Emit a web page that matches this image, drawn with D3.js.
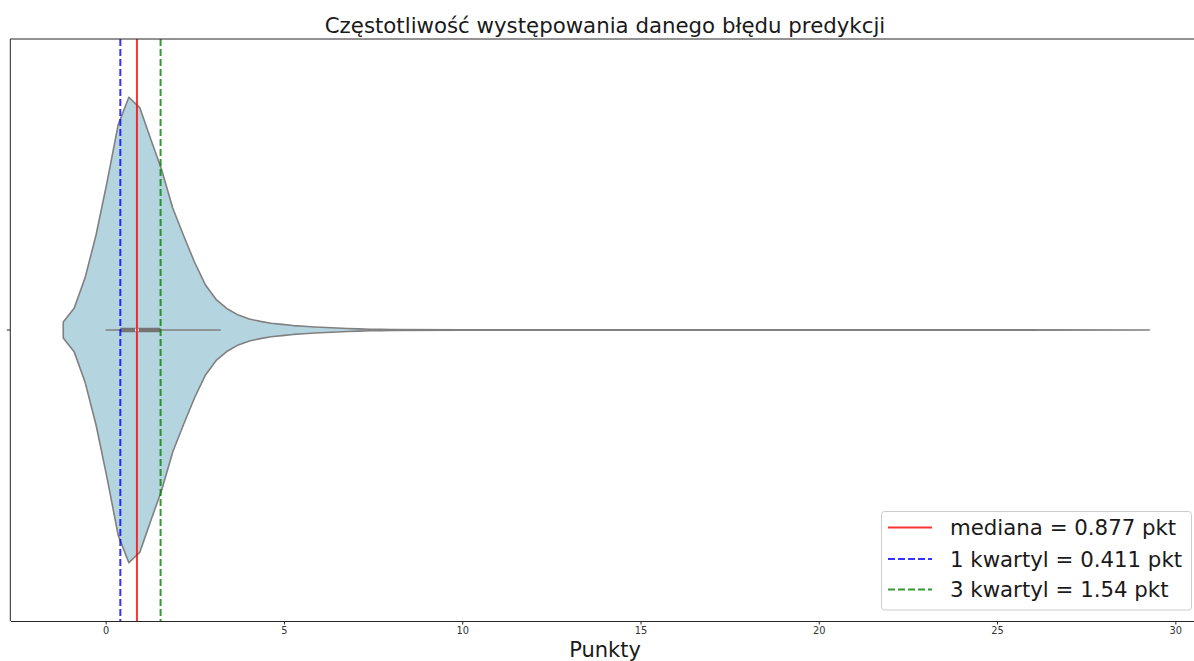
<!DOCTYPE html>
<html>
<head>
<meta charset="utf-8">
<script src="https://cdn.jsdelivr.net/npm/d3@7"></script>
<style>
  html, body { margin: 0; padding: 0; background: #fff; }
  svg { display: block; font-family: "DejaVu Sans", sans-serif; }
</style>
</head>
<body>
<svg id="chart" width="1194" height="661"></svg>
<script>
// ---- data ----
const titleText = "Częstotliwość występowania danego błędu predykcji";
const xLabel = "Punkty";
const xTicks = [0, 5, 10, 15, 20, 25, 30];
const category = [""];
// KDE support points (prediction error, pkt) and relative density (peak = 1)
const errorValues = [-1.19, -0.88, -0.58, -0.27, 0.04, 0.35, 0.65, 0.96, 1.27, 1.57,
  1.88, 2.19, 2.49, 2.80, 3.11, 3.42, 3.72, 4.03, 4.34, 4.64,
  4.95, 5.26, 5.56, 5.87, 6.18, 6.49, 6.79, 7.10, 7.41, 7.71,
  8.02, 10.0, 15.0, 20.0, 25.0, 29.27];
const density = [0.034, 0.095, 0.223, 0.408, 0.636, 0.881, 1.0, 0.954, 0.817, 0.688,
  0.524, 0.404, 0.292, 0.193, 0.129, 0.090, 0.064, 0.047, 0.037, 0.029,
  0.024, 0.019, 0.016, 0.013, 0.011, 0.0086, 0.0064, 0.0047, 0.0034, 0.0026,
  0.0017, 0.0008, 0.0005, 0.0005, 0.0004, 0.0003];
// box plot stats
const whiskerLow = 0.0;
const whiskerHigh = 3.23;
const q1 = 0.411;
const median = 0.877;
const q3 = 1.54;
const refLines = [
  { value: median, label: "mediana = 0.877 pkt", color: "#ff0000", dash: null },
  { value: q1, label: "1 kwartyl = 0.411 pkt", color: "#0000ff", dash: "7,3" },
  { value: q3, label: "3 kwartyl = 1.54 pkt", color: "#008000", dash: "7,3" }
];

(function () {
// ---- layout ----
const svg = d3.select("#chart");
const pLeft = 10.3, pRight = 1201, pTop = 39, pBottom = 621;
const x = d3.scaleLinear().domain([-2.675, 30.72]).range([pLeft, pRight]);
const y = d3.scaleBand().domain(category).range([pTop, pBottom]).padding(0);
const cy = y("") + y.bandwidth() / 2;
const halfW = 0.4 * y.bandwidth();

const pts = errorValues.map((v, i) => ({ v, d: density[i] }));

// violin
const area = d3.area()
  .x(p => x(p.v))
  .y0(p => cy - p.d * halfW)
  .y1(p => cy + p.d * halfW)
  .curve(d3.curveLinear);
svg.append("path")
  .datum(pts)
  .attr("d", area)
  .attr("fill", "#b4d4df")
  .attr("stroke", "#808080")
  .attr("stroke-width", 1.6)
  .attr("stroke-linejoin", "round");

// inner box
svg.append("line")
  .attr("x1", x(whiskerLow)).attr("x2", x(whiskerHigh))
  .attr("y1", cy).attr("y2", cy)
  .attr("stroke", "#808080").attr("stroke-width", 1.6);
svg.append("line")
  .attr("x1", x(q1)).attr("x2", x(q3))
  .attr("y1", cy).attr("y2", cy)
  .attr("stroke", "#737373").attr("stroke-width", 4.5);
svg.append("circle")
  .attr("cx", x(median)).attr("cy", cy).attr("r", 2)
  .attr("fill", "#fff");

// reference lines
svg.selectAll("line.ref").data(refLines).enter().append("line")
  .attr("class", "ref")
  .attr("x1", d => x(d.value)).attr("x2", d => x(d.value))
  .attr("y1", pTop).attr("y2", pBottom)
  .attr("stroke", d => d.color)
  .attr("stroke-opacity", 0.8)
  .attr("stroke-width", 2)
  .attr("stroke-dasharray", d => d.dash);

// spines
const spine = "#262626";
svg.append("line").attr("x1", pLeft).attr("x2", pLeft).attr("y1", pTop).attr("y2", pBottom)
  .attr("stroke", spine).attr("stroke-width", 1);
svg.append("line").attr("x1", pLeft).attr("x2", pRight).attr("y1", pTop).attr("y2", pTop)
  .attr("stroke", spine).attr("stroke-width", 1);

// x axis
const xAxis = d3.axisBottom(x).tickValues(xTicks).tickSize(3.5).tickSizeOuter(0)
  .tickPadding(3).tickFormat(d3.format("d"));
const gx = svg.append("g").attr("transform", `translate(0,${pBottom})`).call(xAxis);
gx.select(".domain").attr("stroke", spine).attr("stroke-width", 1);
gx.selectAll(".tick line").attr("stroke", spine);
gx.selectAll(".tick text").attr("font-size", "9.8px").attr("fill", "#333")
  .attr("font-family", "DejaVu Sans");

// y axis (single tick, no label)
const yAxis = d3.axisLeft(y).tickSize(3.5).tickSizeOuter(0).tickFormat(() => "");
const gy = svg.append("g").attr("transform", `translate(${pLeft},0)`).call(yAxis);
gy.select(".domain").remove();
gy.selectAll(".tick line").attr("stroke", spine);

// title & label
svg.append("text").attr("x", 605).attr("y", 33).attr("text-anchor", "middle")
  .attr("font-size", "21.3px").attr("fill", "#1a1a1a").text(titleText);
svg.append("text").attr("x", 605).attr("y", 657).attr("text-anchor", "middle")
  .attr("font-size", "21px").attr("fill", "#1a1a1a").text(xLabel);

// legend
const lg = svg.append("g");
lg.append("rect").attr("x", 881.5).attr("y", 511.5).attr("width", 310).attr("height", 98.5)
  .attr("rx", 3).attr("fill", "#fff").attr("fill-opacity", 0.8)
  .attr("stroke", "#cccccc").attr("stroke-width", 1);
const rowY = [527.5, 559, 589.5];
refLines.forEach((d, i) => {
  lg.append("line").attr("x1", 888).attr("x2", 932).attr("y1", rowY[i]).attr("y2", rowY[i])
    .attr("stroke", d.color).attr("stroke-opacity", 0.8).attr("stroke-width", 2)
    .attr("stroke-dasharray", d.dash);
  lg.append("text").attr("x", 950).attr("y", rowY[i] + 7.5)
    .attr("font-size", "21.3px").attr("fill", "#1a1a1a").text(d.label);
});
})();
</script>
</body>
</html>
